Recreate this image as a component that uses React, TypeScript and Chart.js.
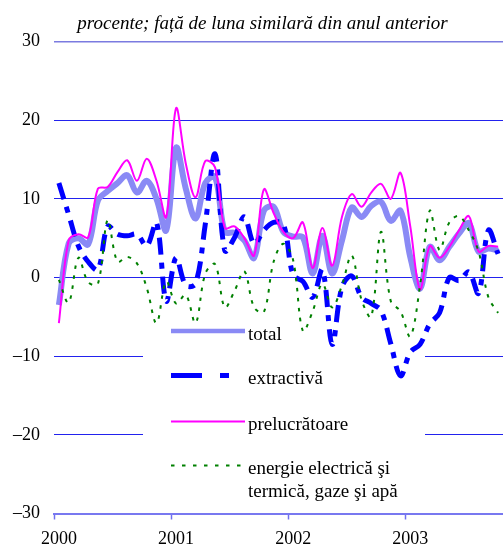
import React, { useEffect, useRef } from "react";
import { Chart, registerables } from "chart.js";

Chart.register(...registerables);

const years = ["2000", "2001", "2002", "2003"];
const monthNames = ["ian", "feb", "mar", "apr", "mai", "iun", "iul", "aug", "sep", "oct", "nov", "dec"];

const total = [-3.5, 4.3, 5.0, 4.2, 9.8, 11.0, 12.0, 13.0, 10.8, 12.3, 10.0, 6.0,
  16.5, 11.3, 7.5, 12.0, 12.8, 5.8, 5.7, 4.7, 2.5, 8.5, 9.0, 5.8,
  5.2, 5.1, 0.5, 5.3, 0.5, 4.7, 8.9, 7.7, 9.1, 9.6, 7.2, 8.5,
  2.6, -1.4, 3.9, 2.2, 3.9, 5.6, 6.9, 3.3, 3.7, 3.4];

const extractiva = [12, 8, 4, 2, 1, 6.5, 5.5, 5.3, 5.5, 4.0, 7.0, -3,
  2.5, -1.0, -0.8, 6.8, 15.7, 3.4, 5.1, 7.7, 4.3, 6.0, 7.0, 6.8,
  0.3, -0.5, -2.5, 1.0, -8.5, -1.2, 0.2, -2.5, -3.3, -4.2, -8.4, -12.5,
  -9.5, -8.5, -5.9, -4.5, 0, -0.4, 0.7, -2.0, 6.0, 3.0];

const prelucratoare = [-5.8, 4.7, 5.5, 5.1, 11.3, 11.5, 13.4, 14.9, 12.3, 15.1, 12.3, 7.7,
  21.5, 14.5, 10.2, 14.8, 14.0, 6.3, 6.5, 5.0, 2.8, 11.2, 8.2, 5.8,
  5.0, 7.0, 1.2, 6.3, 1.5, 7.7, 10.6, 9.0, 10.8, 11.9, 10.0, 13.3,
  6.5, -1.5, 4.0, 2.5, 3.9, 6.0, 7.8, 3.3, 4.0, 3.9];

const energie = [-0.3, -3.2, 2.5, -0.6, -0.8, 7.3, 2.0, 2.6, 1.8, -1.3, -5.8, -0.5,
  -3.3, -2.2, -5.8, 0.5, 1.7, -3.8, -1.7, 0.8, -3.8, -4.4, 2.0, 4.3,
  2.2, -6.8, -4.3, -0.8, -3.8, -1.0, 2.8, -2.8, -5.0, 5.8, -3.0, -4.3,
  -7.5, -1.0, 8.5, 3.5, 7.0, 7.8, 6.0, 3.3, -2.5, -4.5];

const yTicks = [-30, -20, -10, 0, 10, 20, 30];

const titleText = "procente; față de luna similară din anul anterior";
const legendLabels = ["total", "extractivă", "prelucrătoare", "energie electrică şi", "termică, gaze şi apă"];

const categories: string[] = [];
for (let i = 0; i < total.length; i++) {
  categories.push(monthNames[i % 12] + " " + years[Math.floor(i / 12)]);
}

const FONT = '"Liberation Serif", "Times New Roman", serif';

const COL_TOTAL = "#8a8af5";
const COL_EXTR = "#0000ff";
const COL_PREL = "#ff00ff";
const COL_ENER = "#008000";

const overlayPlugin = {
  id: "overlay",
  beforeDatasetsDraw(chart: any) {
    const ctx = chart.ctx;
    ctx.save();
    ctx.fillStyle = "#ffffff";
    ctx.fillRect(143, 300, 282, 205);
    ctx.restore();
  },
  afterDraw(chart: any) {
    const ctx = chart.ctx;
    ctx.save();
    // title
    ctx.fillStyle = "#000";
    ctx.font = `italic 19px ${FONT}`;
    ctx.textAlign = "center";
    ctx.textBaseline = "alphabetic";
    ctx.fillText(titleText, 262.5, 29);

    // legend
    const x0 = 171, x1 = 245, tx = 248;
    const entries = [
      { y: 331, color: COL_TOTAL, w: 4.5, dash: [] as number[], labels: [legendLabels[0]] },
      { y: 375.5, color: COL_EXTR, w: 5, dash: [31, 18, 9, 18], labels: [legendLabels[1]] },
      { y: 421.5, color: COL_PREL, w: 2, dash: [] as number[], labels: [legendLabels[2]] },
      { y: 465.5, color: COL_ENER, w: 2, dash: [3.5, 7.5], labels: [legendLabels[3], legendLabels[4]] },
    ];
    ctx.textAlign = "left";
    ctx.font = `19px ${FONT}`;
    for (const e of entries) {
      ctx.beginPath();
      ctx.strokeStyle = e.color;
      ctx.lineWidth = e.w;
      ctx.lineCap = "butt";
      ctx.setLineDash(e.dash);
      ctx.moveTo(x0, e.y);
      ctx.lineTo(x1, e.y);
      ctx.stroke();
      ctx.setLineDash([]);
      ctx.fillStyle = "#000";
      e.labels.forEach((t, k) => {
        ctx.fillText(t, tx, e.y + 8.5 + k * 23);
      });
    }
    ctx.restore();
  },
};

export default function App() {
  const ref = useRef<HTMLCanvasElement | null>(null);

  useEffect(() => {
    if (!ref.current) return;
    const chart = new Chart(ref.current, {
      type: "line",
      data: {
        labels: categories,
        datasets: [
          {
            label: "total",
            data: total,
            borderColor: COL_TOTAL,
            borderWidth: 6,
            pointRadius: 0,
            tension: 0.35,
            fill: false,
            order: 4,
          },
          {
            label: "extractivă",
            data: extractiva,
            borderColor: COL_EXTR,
            borderWidth: 5,
            borderDash: [17, 8, 6, 8],
            pointRadius: 0,
            tension: 0.35,
            fill: false,
            order: 3,
          },
          {
            label: "prelucrătoare",
            data: prelucratoare,
            borderColor: COL_PREL,
            borderWidth: 2,
            pointRadius: 0,
            tension: 0.35,
            fill: false,
            order: 2,
          },
          {
            label: "energie electrică şi termică, gaze şi apă",
            data: energie,
            borderColor: COL_ENER,
            borderWidth: 2,
            borderDash: [3.5, 6.5],
            pointRadius: 0,
            tension: 0.35,
            fill: false,
            order: 1,
          },
        ],
      },
      options: {
        responsive: false,
        animation: false,
        layout: { padding: { top: 41.5, right: 0, left: 0, bottom: 0 } },
        plugins: {
          legend: { display: false },
          tooltip: { enabled: false },
          title: { display: false },
        },
        scales: {
          x: {
            type: "category",
            offset: true,
            grid: {
              offset: true,
              drawOnChartArea: false,
              drawTicks: true,
              tickLength: 6,
              tickWidth: 1.5,
              tickColor: (c: any) => (c.index % 12 === 0 && c.index < total.length ? "#7070ee" : "rgba(0,0,0,0)"),
            },
            border: { display: true, color: "#7878f0", width: 2 },
            ticks: {
              autoSkip: false,
              maxRotation: 0,
              padding: 9,
              color: "#000",
              font: { family: FONT, size: 18 },
              callback: (_v: any, i: number) => (i % 12 === 0 ? years[i / 12] : ""),
            },
            afterFit: (s: any) => {
              s.height = 32.5;
              s.paddingRight = 0;
              s.paddingLeft = 0;
            },
          },
          y: {
            min: -30,
            max: 30,
            afterBuildTicks: (s: any) => {
              s.ticks = yTicks.map((v) => ({ value: v }));
            },
            grid: {
              drawTicks: false,
              color: (c: any) => {
                const v = c.tick && c.tick.value;
                if (v === 30) return "#7b7be0";
                if (v === -30) return "rgba(0,0,0,0)";
                return "#2222ee";
              },
              lineWidth: (c: any) => (c.tick && c.tick.value === 30 ? 1.5 : 1),
            },
            border: { display: false },
            ticks: {
              padding: 14,
              color: "#000",
              font: { family: FONT, size: 18 },
              callback: (v: any) => (Number(v) < 0 ? "–" + Math.abs(Number(v)) : String(v)),
            },
            afterFit: (s: any) => {
              s.width = 54;
            },
          },
        },
      },
      plugins: [overlayPlugin],
    } as any);
    return () => chart.destroy();
  }, []);

  return (
    <div style={{ position: "absolute", left: 0, top: 0, width: 503, height: 546, background: "#fff" }}>
      <canvas ref={ref} width={503} height={546} style={{ display: "block" }} />
    </div>
  );
}
